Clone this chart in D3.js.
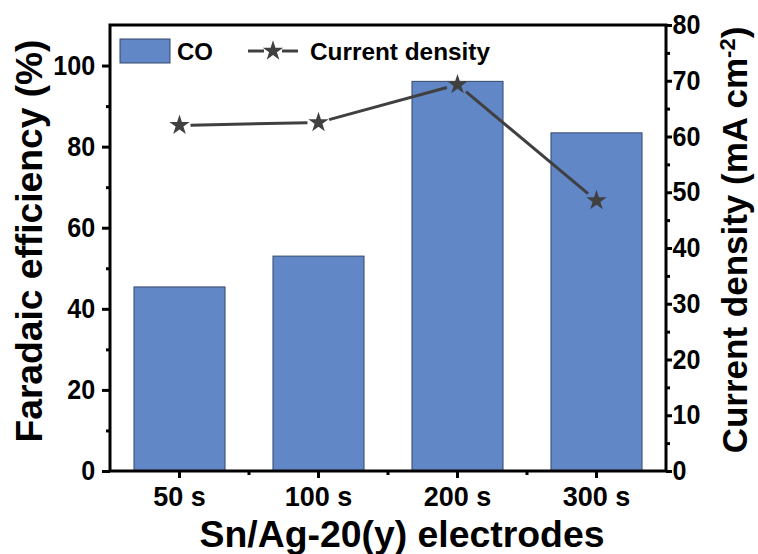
<!DOCTYPE html>
<html><head><meta charset="utf-8">
<script src="https://cdn.jsdelivr.net/npm/d3@7"></script>
<style>body{margin:0;background:#fff}svg{display:block}text{font-family:"Liberation Sans",Arial,sans-serif;font-weight:bold;fill:#000}</style>
</head><body><svg id="c" width="758" height="554"></svg>
<script>
const categories = ["50 s","100 s","200 s","300 s"];
const feCO = [45.4, 53.0, 96.1, 83.4];
const currentDensity = [62.0, 62.5, 69.3, 48.5];
const leftTicks = [0,20,40,60,80,100];
const leftMinor = [10,30,50,70,90];
const rightTicks = [0,10,20,30,40,50,60,70,80];
const rightMinor = [5,15,25,35,45,55,65,75];

const svg = d3.select("#c");
const L=110, R=666, T=25, B=471;
const x = d3.scaleBand().domain(categories).range([L,R]).paddingInner(0.345).paddingOuter(0.1725);
const yL = d3.scaleLinear().domain([0,110]).range([B,T]);
const yR = d3.scaleLinear().domain([0,80]).range([B,T]);
const SX = 0.93, TF = "27px";

// bars
svg.selectAll("rect.bar").data(feCO).enter().append("rect")
  .attr("x",(d,i)=>x(categories[i])).attr("width",x.bandwidth())
  .attr("y",d=>yL(d)).attr("height",d=>B-yL(d))
  .attr("fill","#6187c7").attr("stroke","#34476b").attr("stroke-width",1);

// line with gaps near stars
const pts = currentDensity.map((d,i)=>[x(categories[i])+x.bandwidth()/2, yR(d)]);
const gap = 11;
for(let i=0;i<pts.length-1;i++){
  const [x1,y1]=pts[i],[x2,y2]=pts[i+1];
  const len=Math.hypot(x2-x1,y2-y1), ux=(x2-x1)/len, uy=(y2-y1)/len;
  svg.append("line").attr("x1",x1+ux*gap).attr("y1",y1+uy*gap).attr("x2",x2-ux*gap).attr("y2",y2-uy*gap)
    .attr("stroke","#404040").attr("stroke-width",3);
}
const star = d3.symbol().type(d3.symbolStar).size(130);
svg.selectAll("path.star").data(pts).enter().append("path")
  .attr("d",star).attr("transform",d=>`translate(${d[0]},${d[1]})`).attr("fill","#404040");

function styleAxis(g){
  g.select(".domain").remove();
  g.selectAll(".tick line").attr("stroke","#000").attr("stroke-width",3);
  g.selectAll(".tick text").style("font-size",TF).attr("transform",`scale(${SX},1)`).attr("fill","#000");
}
// left
svg.append("g").attr("transform",`translate(${L},0)`)
  .call(d3.axisLeft(yL).tickValues(leftTicks).tickSize(8).tickPadding(8)).call(styleAxis);
svg.append("g").attr("transform",`translate(${L},0)`)
  .call(d3.axisLeft(yL).tickValues(leftMinor).tickSize(4).tickFormat("")).call(styleAxis);
// right
svg.append("g").attr("transform",`translate(${R},0)`)
  .call(d3.axisRight(yR).tickValues(rightTicks).tickSize(6).tickPadding(1)).call(styleAxis);
svg.append("g").attr("transform",`translate(${R},0)`)
  .call(d3.axisRight(yR).tickValues(rightMinor).tickSize(4).tickFormat("")).call(styleAxis);
// bottom
const gb = svg.append("g").attr("transform",`translate(0,${B})`)
  .call(d3.axisBottom(x).tickSize(7).tickPadding(9));
gb.select(".domain").remove();
gb.selectAll(".tick line").attr("stroke","#000").attr("stroke-width",3);
gb.selectAll(".tick text").style("font-size",TF);
const step = x.step();
svg.append("g").selectAll("line").data(categories.slice(1)).enter().append("line")
  .attr("x1",d=>x(d)+x.bandwidth()/2-step/2).attr("x2",d=>x(d)+x.bandwidth()/2-step/2)
  .attr("y1",B).attr("y2",B+4).attr("stroke","#000").attr("stroke-width",3);

// frame
svg.append("rect").attr("x",L).attr("y",T).attr("width",R-L).attr("height",B-T)
  .attr("fill","none").attr("stroke","#000").attr("stroke-width",3);

// titles
svg.append("text").attr("x",402).attr("y",547).attr("text-anchor","middle").style("font-size","36px")
  .attr("textLength",405).attr("lengthAdjust","spacingAndGlyphs")
  .text("Sn/Ag-20(y) electrodes");
svg.append("text").attr("transform",`translate(42,241) rotate(-90)`).attr("text-anchor","middle").style("font-size","36px")
  .attr("textLength",403).attr("lengthAdjust","spacingAndGlyphs")
  .text("Faradaic efficiency (%)");
const rt = svg.append("text").attr("transform",`translate(747,240) rotate(-90)`).attr("text-anchor","middle").style("font-size","35px");
rt.append("tspan").text("Current density (mA cm");
rt.append("tspan").attr("dy",-12).style("font-size","22px").text("-2");
rt.append("tspan").attr("dy",12).text(")");

// legend
svg.append("rect").attr("x",120).attr("y",39).attr("width",50).attr("height",24)
  .attr("fill","#6187c7").attr("stroke","#34476b").attr("stroke-width",1);
svg.append("text").attr("x",177).attr("y",60).style("font-size","24px").text("CO");
svg.append("line").attr("x1",248).attr("x2",264).attr("y1",51).attr("y2",51).attr("stroke","#404040").attr("stroke-width",3);
svg.append("line").attr("x1",282).attr("x2",298).attr("y1",51).attr("y2",51).attr("stroke","#404040").attr("stroke-width",3);
svg.append("path").attr("d",star).attr("transform","translate(273,51)").attr("fill","#404040");
svg.append("text").attr("x",310).attr("y",60).style("font-size","24px")
  .attr("textLength",180).attr("lengthAdjust","spacingAndGlyphs").text("Current density");
</script></body></html>
